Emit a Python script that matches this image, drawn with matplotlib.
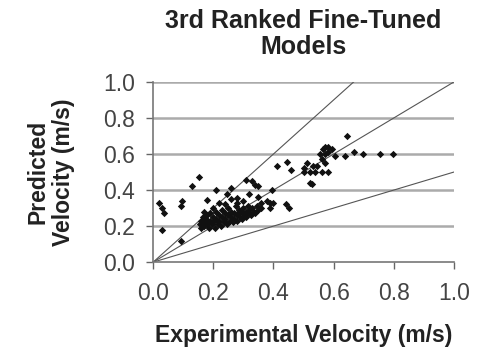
import matplotlib.pyplot as plt

plt.rcParams['font.family'] = ['Liberation Sans', 'DejaVu Sans']

# experimental vs predicted velocity (m/s)
exp_velocity = [
    0.02, 0.03, 0.037, 0.03, 0.097, 0.093, 0.092, 0.128, 0.153, 0.21, 0.18,
    0.26, 0.247, 0.31, 0.33, 0.34, 0.35, 0.317, 0.278, 0.35, 0.36, 0.38, 0.39,
    0.40, 0.39, 0.394, 0.413, 0.444, 0.457, 0.44, 0.45, 0.52,
    0.643, 0.564, 0.593, 0.555, 0.571, 0.58, 0.605, 0.638, 0.669, 0.699, 0.754,
    0.798, 0.533, 0.544, 0.522, 0.538, 0.56, 0.582, 0.527, 0.50, 0.51, 0.50,
    0.57, 0.56, 0.58, 0.57,
    0.155, 0.16, 0.16, 0.165, 0.17, 0.17, 0.175, 0.18, 0.18, 0.185, 0.19, 0.19,
    0.195, 0.20, 0.20, 0.205, 0.21, 0.21, 0.215, 0.22, 0.22, 0.225, 0.23, 0.23,
    0.235, 0.24, 0.24, 0.245, 0.25, 0.25, 0.255, 0.26, 0.26, 0.265, 0.27, 0.27,
    0.275, 0.28, 0.28, 0.285, 0.29, 0.29, 0.295, 0.30, 0.30, 0.305, 0.31, 0.31,
    0.315, 0.32, 0.32, 0.325, 0.33, 0.335, 0.34, 0.345, 0.35, 0.36, 0.22, 0.26,
    0.30, 0.20, 0.17, 0.24, 0.28,
]
pred_velocity = [
    0.33, 0.30, 0.27, 0.18, 0.34, 0.31, 0.12, 0.42, 0.47, 0.40, 0.345,
    0.41, 0.38, 0.455, 0.45, 0.43, 0.42, 0.38, 0.355, 0.36, 0.33, 0.34, 0.33,
    0.33, 0.30, 0.40, 0.533, 0.554, 0.51, 0.32, 0.30, 0.44,
    0.70, 0.63, 0.63, 0.60, 0.60, 0.61, 0.59, 0.59, 0.61, 0.60, 0.60,
    0.60, 0.533, 0.533, 0.50, 0.50, 0.50, 0.50, 0.433, 0.52, 0.55, 0.50,
    0.55, 0.57, 0.64, 0.64,
    0.21, 0.23, 0.19, 0.25, 0.22, 0.20, 0.24, 0.21, 0.26, 0.19, 0.23, 0.27,
    0.21, 0.25, 0.22, 0.19, 0.24, 0.28, 0.21, 0.26, 0.23, 0.20, 0.25, 0.29,
    0.22, 0.27, 0.24, 0.21, 0.26, 0.30, 0.23, 0.25, 0.28, 0.22, 0.27, 0.24,
    0.31, 0.26, 0.23, 0.29, 0.25, 0.28, 0.24, 0.27, 0.30, 0.26, 0.28, 0.25,
    0.31, 0.27, 0.29, 0.26, 0.30, 0.28, 0.27, 0.31, 0.29, 0.30, 0.33, 0.35,
    0.34, 0.30, 0.28, 0.32, 0.33,
]

# reference lines through the origin (predicted = slope * experimental)
ref_slopes = [1.5, 1.0, 0.5]

ticks = [0.0, 0.2, 0.4, 0.6, 0.8, 1.0]
tick_labels = ['0.0', '0.2', '0.4', '0.6', '0.8', '1.0']

fig = plt.figure(figsize=(4.94, 3.5), dpi=100)
ax = fig.add_axes([0.31, 0.251, 0.609, 0.515])

for yv in ticks[1:]:
    ax.axhline(yv, color='#ababab', linewidth=1.8, zorder=1)

for k in ref_slopes:
    ax.plot([0, 1], [0, k], color='#555555', linewidth=0.8, zorder=2)

ax.scatter(exp_velocity, pred_velocity, marker='D', s=14, color='#111111',
           linewidths=0, zorder=3)

ax.set_xlim(0, 1)
ax.set_ylim(0, 1)
ax.set_xticks(ticks)
ax.set_yticks(ticks)
ax.set_xticklabels(tick_labels)
ax.set_yticklabels(tick_labels)
ax.tick_params(labelsize=16.5, colors='#666666', labelcolor='#444444',
               length=5, width=1)
ax.tick_params(axis='x', pad=9)
ax.tick_params(axis='y', pad=8)

for side in ['top', 'right']:
    ax.spines[side].set_visible(False)
for side in ['left', 'bottom']:
    ax.spines[side].set_color('#777777')
    ax.spines[side].set_linewidth(1.2)

ax.set_xlabel('Experimental Velocity (m/s)', fontsize=16.5, fontweight='bold',
              color='#222222', labelpad=14)
ax.set_ylabel('Predicted\nVelocity (m/s)', fontsize=16.5, fontweight='bold',
              color='#222222', labelpad=20, linespacing=1.15)
ax.set_title('3rd Ranked Fine-Tuned\nModels', fontsize=18, fontweight='bold',
             color='#222222', pad=20, linespacing=1.12)

fig.savefig('out.png', dpi=100)
